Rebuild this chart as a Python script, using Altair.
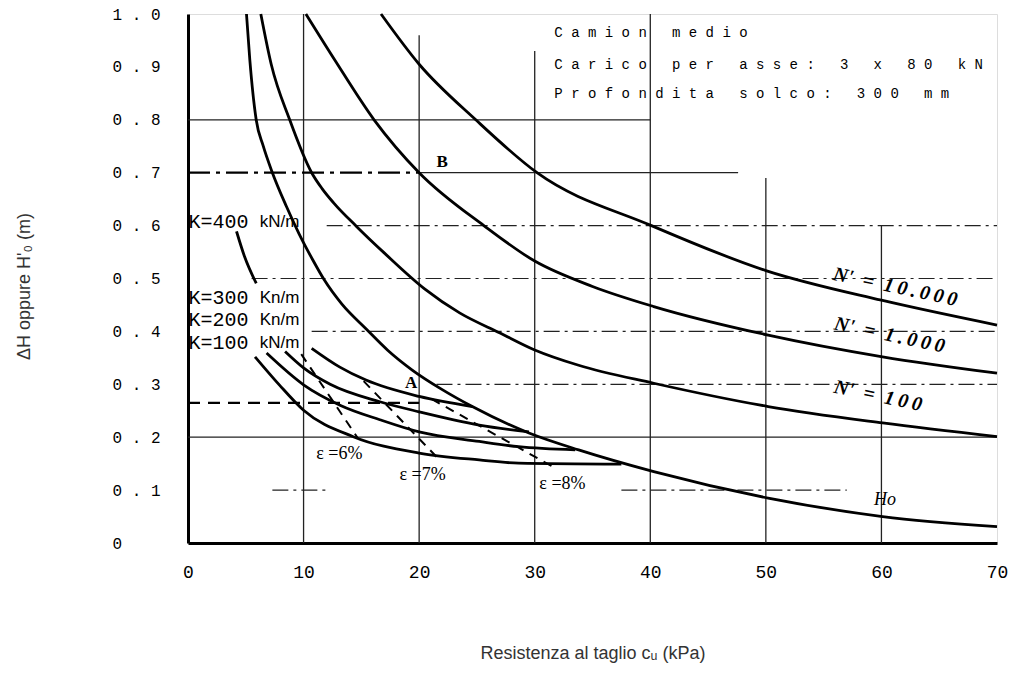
import altair as alt
import pandas as pd

NB = "\u00a0"  # non-breaking space (SVG collapses ordinary runs of spaces)

# ---------------- data ----------------
# main curves (x = c_u in kPa, y = thickness in m)
ho_x = [5.06, 5.35, 5.9, 6.5, 7.3, 8.5, 9.6, 10.8, 11.8, 13.3, 15.4, 17.3, 19.4, 22, 24.6,
        29.5, 33.8, 40.3, 50.2, 60.1, 70]
ho_y = [1.0, 0.913, 0.8, 0.751, 0.70, 0.637, 0.585, 0.535, 0.497, 0.452, 0.405, 0.364, 0.327,
        0.29, 0.258, 0.208, 0.176, 0.135, 0.085, 0.05, 0.031]
n100_x = [6.3, 7.2, 8.8, 10.7, 11.6, 12.6, 14.6, 17, 20.5, 23.5, 27, 30, 33.8, 40.3, 50.2, 60.1, 70]
n100_y = [1.0, 0.905, 0.8, 0.70, 0.67, 0.643, 0.598, 0.548, 0.48, 0.435, 0.397, 0.365, 0.336,
          0.302, 0.258, 0.227, 0.201]
n1000_x = [10.2, 12.7, 16.1, 20, 25.6, 30, 35, 40.3, 50.2, 60.1, 70]
n1000_y = [1.0, 0.913, 0.8, 0.7, 0.6, 0.533, 0.485, 0.447, 0.393, 0.352, 0.321]
n10000_x = [16.7, 20, 24.9, 30.2, 40.1, 50, 60, 70]
n10000_y = [1.0, 0.905, 0.8, 0.7, 0.6, 0.515, 0.459, 0.412]

# geotextile curves
k100_x = [10.7, 13.1, 15.4, 20, 24.6]
k100_y = [0.368, 0.333, 0.308, 0.277, 0.258]
k200_x = [8.4, 10, 12.3, 16.6, 20, 25.2, 29.5]
k200_y = [0.362, 0.331, 0.30, 0.267, 0.248, 0.223, 0.210]
k300_x = [6.8, 10, 13.2, 16.6, 20, 25.2, 28.6, 33.5]
k300_y = [0.359, 0.299, 0.26, 0.233, 0.210, 0.192, 0.182, 0.176]
k400_x = [5.8, 7.9, 10, 14.3, 20, 25.2, 28.6, 37.5]
k400_y = [0.352, 0.299, 0.251, 0.201, 0.170, 0.157, 0.151, 0.149]
k400_top_x = [4.2, 4.9, 5.9]
k400_top_y = [0.589, 0.541, 0.491]

# strain lines
eps6_x = [9.8, 14.7]
eps6_y = [0.357, 0.198]
eps7_x = [15.2, 21.5]
eps7_y = [0.306, 0.163]
eps8_x = [21.1, 31.9]
eps8_y = [0.272, 0.140]

# reference points B and A
ref_b_x = [0, 20]
ref_b_y = [0.70, 0.70]
ref_a_x = [0, 20]
ref_a_y = [0.265, 0.265]

# grid (as drawn on the original sheet)
grid_v_x = [10, 20, 30, 40, 50, 60]
grid_v_top = [1.0, 0.96, 0.93, 1.0, 0.69, 0.6]
grid_hs_y = [0.8, 0.7, 0.2]
grid_hs_x0 = [0, 20, 0]
grid_hs_x1 = [40, 47.6, 70]
grid_hd_y = [0.6, 0.5, 0.4, 0.3, 0.1, 0.1]
grid_hd_x0 = [12, 5.5, 10.7, 21.5, 7.3, 37.5]
grid_hd_x1 = [70, 70, 70, 70, 12, 57]

x_ticks = [0, 10, 20, 30, 40, 50, 60, 70]
y_ticks = [round(i / 10, 1) for i in range(11)]

# labels
box_lines = ["Camion medio", "Carico per asse: 3 x 80 kN", "Profondita solco: 300 mm"]
box_x = [31.7, 31.7, 31.7]
box_y = [0.964, 0.904, 0.849]

k_labels = ["K=400", "K=300", "K=200", "K=100"]
k_units = ["kN/m", "Kn/m", "Kn/m", "kN/m"]
k_lab_y = [0.607, 0.463, 0.422, 0.378]
k_lab_x = [0.05, 0.05, 0.05, 0.05]
k_unit_x = [6.2, 6.2, 6.2, 6.2]

n_labels = ["N'" + NB * 2 + "=" + NB * 2 + "1\u20090\u2009.\u20090\u20090\u20090",
            "N'" + NB * 2 + "=" + NB * 2 + "1\u2009.\u20090\u20090\u20090",
            "N'" + NB * 2 + "=" + NB * 2 + "1\u20090\u20090"]
n_lab_x = [61.2, 60.7, 59.7]
n_lab_y = [0.484, 0.393, 0.278]

eps_labels = ["\u03b5" + NB + "=6%", "\u03b5" + NB + "=7%", "\u03b5" + NB + "=8%"]
eps_lab_x = [11.1, 18.3, 30.4]
eps_lab_y = [0.169, 0.128, 0.112]

pt_labels = ["B", "A"]
pt_x = [22.0, 19.3]
pt_y = [0.72, 0.302]

ho_label = ["Ho"]
ho_lab_x = [60.3]
ho_lab_y = [0.081]

# ---------------- tables ----------------
def series(name, xs, ys):
    return pd.DataFrame({"series": name, "x": xs, "y": ys})

curves = pd.concat([
    series("Ho", ho_x, ho_y),
    series("N100", n100_x, n100_y),
    series("N1000", n1000_x, n1000_y),
    series("N10000", n10000_x, n10000_y),
    series("K100", k100_x, k100_y),
    series("K200", k200_x, k200_y),
    series("K300", k300_x, k300_y),
    series("K400", k400_x, k400_y),
    series("K400top", k400_top_x, k400_top_y),
])
eps = pd.concat([series("e6", eps6_x, eps6_y), series("e7", eps7_x, eps7_y),
                 series("e8", eps8_x, eps8_y)])
ref_b = series("B", ref_b_x, ref_b_y)
ref_a = series("A", ref_a_x, ref_a_y)

gv = pd.DataFrame({"x": grid_v_x, "y": [0] * len(grid_v_x), "y2": grid_v_top})
ghs = pd.DataFrame({"y": grid_hs_y, "x": grid_hs_x0, "x2": grid_hs_x1})
ghd = pd.DataFrame({"y": grid_hd_y, "x": grid_hd_x0, "x2": grid_hd_x1})


def spaced(s):
    return NB.join(list(s.replace(" ", NB)))


box_df = pd.DataFrame({"x": box_x, "y": box_y, "label": [spaced(s) for s in box_lines]})
k_df = pd.DataFrame({"x": k_lab_x, "y": k_lab_y, "label": k_labels})
ku_df = pd.DataFrame({"x": k_unit_x, "y": k_lab_y, "label": k_units})
n_df = pd.DataFrame({"x": n_lab_x, "y": n_lab_y, "label": n_labels})
eps_df = pd.DataFrame({"x": eps_lab_x, "y": eps_lab_y, "label": eps_labels})
pt_df = pd.DataFrame({"x": pt_x, "y": pt_y, "label": pt_labels})
ho_df = pd.DataFrame({"x": ho_lab_x, "y": ho_lab_y, "label": ho_label})

# ---------------- encodings ----------------
X_SCALE = alt.Scale(domain=[0, 70], nice=False, zero=False)
Y_SCALE = alt.Scale(domain=[0, 1], nice=False, zero=False)

x_axis = alt.Axis(
    values=x_ticks, title="Resistenza al taglio c\u1d64 (kPa)", grid=False, ticks=False,
    tickSize=0, domainColor="black", domainWidth=3, labelFont="Liberation Mono",
    labelFontSize=18, labelColor="black", labelPadding=20, labelFlush=False,
    titleFont="Liberation Sans", titleFontSize=18, titleFontWeight="normal",
    titleColor="#333333", titleY=110, titleBaseline="middle",
)
y_axis = alt.Axis(
    values=y_ticks,
    labelExpr="datum.value == 0 ? '0' : replace(format(datum.value, '.1f'), '.', '\u00a0.\u00a0')",
    title="\u0394H oppure H'\u2080 (m)", grid=False, ticks=False, tickSize=0,
    domainColor="black", domainWidth=3, labelFont="Liberation Mono", labelFontSize=16,
    labelColor="black", labelAlign="left", labelPadding=76, labelFlush=False,
    labelBaseline="middle",
    titleFont="Liberation Sans", titleFontSize=18, titleFontWeight="normal",
    titleColor="#333333", titleAngle=270, titleX=-164, titleY=272,
    titleBaseline="middle", titleAlign="center",
)


def xe():
    return alt.X("x:Q", scale=X_SCALE, axis=x_axis)


def ye():
    return alt.Y("y:Q", scale=Y_SCALE, axis=y_axis)


grid_v = alt.Chart(gv).mark_rule(color="#222222", strokeWidth=1.3).encode(
    x=xe(), y=ye(), y2=alt.Y2("y2:Q"))
grid_hs = alt.Chart(ghs).mark_rule(color="#222222", strokeWidth=1.3).encode(
    y=ye(), x=xe(), x2=alt.X2("x2:Q"))
grid_hd = alt.Chart(ghd).mark_rule(color="#222222", strokeWidth=1.2,
                                   strokeDash=[16, 5, 3, 5]).encode(
    y=ye(), x=xe(), x2=alt.X2("x2:Q"))

curve_layer = alt.Chart(curves).mark_line(
    color="black", strokeWidth=2.8, interpolate="monotone").encode(
    x=xe(), y=ye(), detail="series:N")
eps_layer = alt.Chart(eps).mark_line(color="black", strokeWidth=2, strokeDash=[9, 7]).encode(
    x=xe(), y=ye(), detail="series:N")
ref_b_layer = alt.Chart(ref_b).mark_line(color="black", strokeWidth=2.2,
                                         strokeDash=[22, 6, 4, 6]).encode(x=xe(), y=ye())
ref_a_layer = alt.Chart(ref_a).mark_line(color="black", strokeWidth=2.2,
                                         strokeDash=[12, 8]).encode(x=xe(), y=ye())


def text_layer(df, **kw):
    return alt.Chart(df).mark_text(color="black", **kw).encode(
        x=xe(), y=ye(), text="label:N")


box_t = text_layer(box_df, font="Liberation Mono", fontSize=14, align="left", baseline="middle")
k_t = text_layer(k_df, font="Liberation Mono", fontSize=20, align="left", baseline="middle")
ku_t = text_layer(ku_df, font="Liberation Sans", fontSize=17, align="left", baseline="middle")
n_t = text_layer(n_df, font="Liberation Serif", fontSize=20, fontStyle="italic",
                 fontWeight="bold", align="center", baseline="middle", angle=12)
eps_t = text_layer(eps_df, font="Liberation Serif", fontSize=18, align="left", baseline="middle")
pt_t = text_layer(pt_df, font="Liberation Serif", fontSize=17, fontWeight="bold",
                  align="center", baseline="middle")
ho_t = text_layer(ho_df, font="Liberation Serif", fontSize=18, fontStyle="italic",
                  align="center", baseline="middle")

chart = alt.layer(
    grid_v, grid_hs, grid_hd, ref_b_layer, ref_a_layer, curve_layer, eps_layer,
    box_t, k_t, ku_t, n_t, eps_t, pt_t, ho_t,
).properties(
    width=809, height=529,
    padding={"left": 180, "top": 6, "right": 11, "bottom": 124},
    autosize=alt.AutoSizeParams(type="none"),
).configure_view(stroke="black", strokeWidth=2).configure(background="white")

chart.save("out.html", embed_options={"renderer": "svg", "actions": False})
